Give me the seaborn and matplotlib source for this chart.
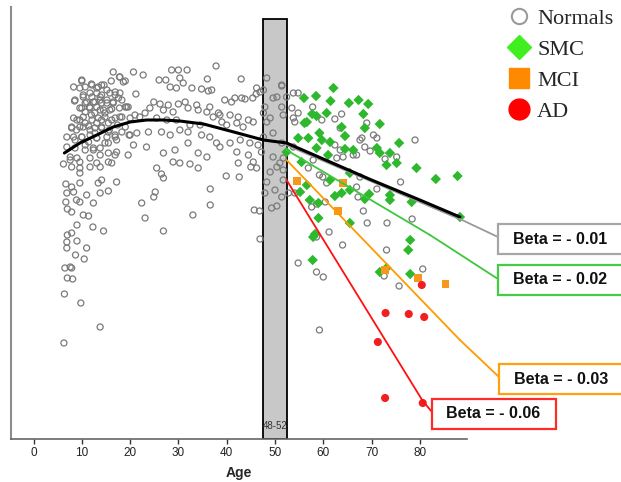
import matplotlib
matplotlib.use("Agg")
import matplotlib.pyplot as plt
import seaborn as sns
import pandas as pd
from matplotlib.lines import Line2D
from matplotlib.patches import Rectangle

# ---------------- data (age, score in arbitrary units) ----------------
normals_age = [
    16.5, 17.8, 18.6, 8.3, 10.0, 12.0, 13.4, 14.6, 16.1,
    8.5, 10.3, 11.7, 13.1, 14.1, 15.8, 16.9,
    10.7, 12.4, 13.8, 15.2, 16.5, 18.3,
    10.0, 11.6, 13.1, 14.5, 16.2, 17.8, 19.3,
    9.0, 10.3, 12.0, 13.4, 14.8, 16.2, 17.9,
    7.9, 9.6, 11.4, 12.7, 14.1, 15.7, 17.4, 19.0,
    8.3, 10.0, 11.7, 13.1, 15.2, 16.9, 19.8,
    6.2, 7.6, 9.0, 10.7, 12.4, 13.8, 15.5, 17.2,
    7.9, 9.6, 9.6, 11.7, 13.8, 16.2, 25.5, 26.5, 26.9, 32.4, 34.1, 39.9, 42.6, 45.0, 46.2,
    6.7, 7.9, 6.9, 8.3, 9.6, 13.4, 14.1, 17.2, 15.5, 13.8, 11.0,
    6.7, 8.9, 9.6, 12.4, 7.0, 7.9, 25.2, 24.9, 22.4, 36.6, 36.6,
    10.3, 11.4, 9.0, 12.3, 14.5, 23.1, 26.9, 33.0, 45.7, 46.8, 46.9,
    7.0, 7.9, 6.9, 9.0, 6.9, 11.0, 8.7, 10.5, 6.5, 7.6, 7.0, 8.1, 7.9, 6.4, 9.8, 13.8, 6.3,
    17.9, 19.0, 10.0,
    9.6, 10.7, 12.1, 13.1, 14.1, 15.2, 16.9, 17.9,
    8.6, 10.3, 11.0, 12.1, 12.7, 13.8, 14.1, 15.2, 16.5, 17.6, 19.0, 19.6,
    9.6, 10.7, 11.7, 12.7, 13.8, 14.8, 15.8, 16.9,
    8.3, 9.6, 10.7, 12.1, 13.1, 14.1, 15.5, 18.3, 20.0, 21.0,
    7.9, 8.9, 10.3, 11.7, 12.7, 14.1, 15.5, 16.9, 18.3, 20.0,
    6.9, 8.6, 10.0, 11.4, 13.1, 15.5, 17.2,
    6.9, 8.6, 10.7, 12.4, 13.8, 14.8,
    7.6, 9.6, 11.7, 13.1, 15.5, 16.9, 19.6,
    37.8, 20.7, 22.7, 28.6, 30.0, 31.8, 30.3, 31.0, 26.0, 27.4, 36.0, 43.0, 28.3, 29.6,
    32.8, 34.8, 36.2, 36.9, 46.2, 46.9, 21.2,
    24.9, 26.2, 27.9, 30.0, 31.4, 33.8, 36.5, 39.6, 41.0, 41.7, 43.1, 43.8, 45.4, 46.1,
    24.1, 26.9, 28.9, 32.0, 34.1, 35.9, 38.3, 40.7, 42.4, 44.5, 45.5,
    22.0, 23.1, 25.5, 27.6, 29.6, 32.4, 34.5, 37.2, 38.6, 39.0, 40.0, 42.1, 43.4,
    21.4, 23.8, 26.5, 28.3, 30.3, 32.0, 34.8, 36.5, 37.9, 40.7, 42.8, 44.8, 46.5,
    20.7, 23.4, 26.9, 29.3, 32.0, 34.1, 35.9, 38.6, 42.1, 44.5,
    28.9, 30.3, 42.4, 45.5,
    47.6, 48.3, 49.6, 50.4, 51.4, 52.4, 53.8, 54.8, 47.9, 47.6, 51.4, 53.5, 51.7, 49.0,
    48.3, 53.8, 47.6, 49.6, 51.4, 53.8, 47.2, 49.6, 51.7, 51.0, 49.0, 50.4, 51.7,
    48.3, 51.7, 50.0, 47.9, 51.4, 49.3, 50.4, 52.8, 54.8, 58.6, 60.0, 59.2, 61.2,
    64.0, 58.6, 57.6, 54.1,
    54.8, 57.8, 59.7, 62.4, 63.8, 69.0, 54.1, 63.5, 70.4, 71.1, 68.0, 67.6, 68.6, 69.7,
    79.0, 62.4, 63.5, 66.2, 66.9, 62.8, 64.1, 57.9, 72.8, 75.2, 56.9, 59.2, 59.9, 67.6,
    76.0, 66.9, 71.1, 60.7, 67.2, 60.4, 51.4,
    58.6, 68.3, 69.1, 73.2, 78.4, 73.1, 72.6, 75.7, 80.6,
]
normals_score = [
    367, 362, 357, 352, 358, 355, 352, 354, 358,
    338, 344, 346, 346, 344, 346, 344,
    336, 337, 339, 336, 337, 339,
    331, 332, 332, 329, 330, 331, 332,
    319, 322, 324, 321, 322, 319, 322,
    311, 312, 313, 311, 312, 309, 314, 312,
    302, 302, 304, 301, 302, 302, 304,
    275, 282, 281, 289, 291, 284, 286, 287,
    272, 271, 266, 272, 272, 276, 271, 265, 261, 275, 271, 263, 262, 272, 271,
    255, 252, 246, 247, 256, 256, 259, 257, 248, 246, 244,
    237, 239, 237, 236, 230, 227, 247, 242, 236, 250, 234,
    224, 223, 214, 212, 208, 221, 208, 224, 229, 228, 200,
    204, 206, 197, 198, 191, 191, 184, 180, 171, 172, 161, 160, 171, 145, 136, 112, 96,
    362, 358, 359,
    351, 352, 354, 351, 354, 349, 347, 346,
    339, 342, 337, 342, 337, 342, 336, 339, 336, 341, 332, 332,
    331, 327, 331, 326, 329, 326, 329, 321,
    321, 319, 316, 319, 316, 319, 316, 322, 321, 324,
    312, 309, 312, 309, 306, 311, 307, 304, 307, 304,
    302, 299, 302, 297, 301, 296, 299,
    292, 291, 294, 289, 291, 296,
    279, 277, 281, 276, 277, 284, 284,
    373, 367, 364, 369, 369, 369, 361, 356, 359, 359, 360, 360, 352, 351,
    351, 350, 348, 349, 351, 347, 345,
    337, 335, 334, 335, 337, 334, 332, 339, 337, 341, 341, 340, 341, 345,
    331, 329, 327, 331, 329, 327, 326, 324, 322, 319, 317,
    322, 326, 321, 319, 319, 314, 314, 322, 324, 317, 314, 316, 312,
    306, 307, 307, 304, 309, 307, 304, 302, 296, 296, 299, 296, 294,
    294, 292, 286, 289, 296, 286, 282, 292, 287, 284,
    277, 276, 276, 277,
    349, 361, 341, 342, 353, 342, 346, 346, 332, 326, 332, 331, 324, 321,
    317, 321, 302, 306, 296, 292, 287, 282, 281, 276, 267, 272, 269,
    257, 259, 249, 246, 242, 231, 233, 246, 176, 167, 162, 109, 207,
    194, 202, 232, 246,
    326, 332, 319, 320, 325, 316, 317, 311, 304, 301, 301, 299, 292, 288,
    299, 294, 289, 284, 284, 281, 282, 279, 280, 282, 271, 264, 262, 262,
    257, 252, 250, 256, 242, 237, 354,
    235, 228, 216, 216, 220, 189, 163, 153, 170,
]

smc_age = [
    62.1, 56.0, 58.5, 61.5, 65.3, 67.3, 69.3, 68.3, 57.7, 58.6, 60.7, 56.1, 56.6,
    63.8, 68.6, 71.7, 59.2, 64.5, 54.8, 56.9, 59.7, 61.4, 58.6, 64.5, 66.2, 75.7,
    71.1, 71.7, 73.8, 61.0, 55.5, 52.4, 73.1, 75.2, 79.3, 83.3, 87.8, 61.4, 56.6,
    55.2, 62.4, 63.8, 65.5, 69.5, 68.6, 73.8, 73.8, 57.2, 59.0, 65.5, 59.0, 65.5,
    57.9, 58.3, 57.8, 78.0, 77.6, 71.7, 73.1, 78.0, 88.3, 78.3,
]
smc_score = [
    351, 341, 343, 338, 336, 339, 335, 325, 325, 323, 326, 316, 317,
    312, 311, 315, 306, 303, 301, 301, 299, 297, 291, 290, 289, 296,
    291, 286, 286, 284, 277, 287, 274, 276, 271, 260, 263, 259, 254,
    247, 243, 246, 249, 245, 240, 244, 239, 239, 236, 266, 221, 216,
    202, 205, 179, 199, 189, 167, 171, 165, 222, 237,
]

mci_age = [54.5, 64.1, 63.1, 72.8, 79.7, 85.3]
mci_score = [258, 256, 228, 169, 161, 155]

ad_age = [80.4, 72.9, 77.7, 80.9, 71.3, 72.8, 80.6]
ad_score = [154, 126, 125, 122, 97, 41, 36]

# fitted curve for normals (lifespan trend)
curve_age = [6.4, 9.6, 13.1, 16.5, 20.0, 23.4, 26.9, 30.3, 35.2, 40.7, 47.6, 52.4, 60.0, 70.0, 80.0, 88.3]
curve_score = [286, 296, 304, 312, 317, 319, 319, 318, 315, 308, 299, 296, 280, 259, 239, 222]

# post-50 regression lines per group
groups = ["Normals", "SMC", "MCI", "AD"]
beta_labels = ["Beta = - 0.01", "Beta = - 0.02", "Beta = - 0.03", "Beta = - 0.06"]
beta_start_age = [52.4, 52.4, 52.4, 52.4]
beta_end_age = [88.3, 82.1, 88.3, 80.6]
beta_start_score = [294, 289, 279, 259]
beta_end_score = [220, 204, 99, 38]

window_center, window_width, window_label = 50, 5, "48-52"

# ---------------- styling ----------------
sns.set_theme(style="white")
plt.rcParams['font.family'] = ['Liberation Sans', 'DejaVu Sans']

W, H = 621, 482
def fx(px):
    return px / W
def fy(py):
    return 1 - py / H

fig = plt.figure(figsize=(W / 100, H / 100), dpi=100)
ax = fig.add_axes([fx(11), fy(439), (466.7 - 11) / W, (439 - 7) / H])
ax.set_xlim(-4.66, 89.7)
ax.set_ylim(0, 432)

# age window bar
ax.bar([window_center], [420], width=window_width, bottom=0, color='#c8c8c8',
       edgecolor='black', linewidth=1.3, zorder=1)
ax.text(window_center, 13, window_label, ha='center', va='center', fontsize=7,
        color='#333333', zorder=2)

df_n = pd.DataFrame({"age": normals_age, "score": normals_score})
df_s = pd.DataFrame({"age": smc_age, "score": smc_score})
df_m = pd.DataFrame({"age": mci_age, "score": mci_score})
df_a = pd.DataFrame({"age": ad_age, "score": ad_score})

sns.scatterplot(data=df_n, x="age", y="score", ax=ax, marker='o', s=19,
                facecolor='none', edgecolor='#7a7a7a', linewidth=0.9, zorder=3)
sns.scatterplot(data=df_s, x="age", y="score", ax=ax, marker='D', s=28,
                color='#2db82d', edgecolor='none', linewidth=0, zorder=4)
sns.scatterplot(data=df_m, x="age", y="score", ax=ax, marker='s', s=32,
                color='#f7981d', edgecolor='none', linewidth=0, zorder=5)
sns.scatterplot(data=df_a, x="age", y="score", ax=ax, marker='o', s=34,
                color='#f02020', edgecolor='none', linewidth=0, zorder=5)

line_colors = ['#9a9a9a', '#3cc83c', '#ff9a00', '#ff1010']
box_colors = ['#a6a6a6', '#44cc44', '#ffa010', '#ff2a2a']
for i in range(4):
    sns.lineplot(x=[beta_start_age[i], beta_end_age[i]],
                 y=[beta_start_score[i], beta_end_score[i]], ax=ax,
                 color=line_colors[i], linewidth=1.6 if i == 0 else 1.3, zorder=6)

sns.lineplot(x=curve_age, y=curve_score, ax=ax, color='black', linewidth=2.2,
             zorder=7, sort=False)

ax.set_xticks(range(0, 90, 10))
ax.set_yticks([])
ax.tick_params(axis='x', bottom=True, length=3.6, width=1.0, color='#333333',
               labelsize=8.5, pad=2, labelcolor='#222222')
for s in ['top', 'right']:
    ax.spines[s].set_visible(False)
ax.spines['left'].set_color('#8c8c8c')
ax.spines['left'].set_linewidth(1.5)
ax.spines['bottom'].set_color('#666666')
ax.spines['bottom'].set_linewidth(1.2)
ax.set_xlabel("Age", fontsize=10, fontweight='bold', labelpad=5)
ax.set_ylabel("")

# beta annotation boxes (layout in figure pixels)
box_rects = [(498, 224, 135, 30), (498, 265, 135, 30), (499, 364, 135, 30), (432, 399, 124, 30)]
conn_targets = [(498, 237), (498, 279), (499, 377), (432, 412)]
inv = fig.transFigure.inverted()
for i in range(4):
    x0, y0, w, h = box_rects[i]
    fig.patches.append(Rectangle((fx(x0), fy(y0 + h)), w / W, h / H,
                                 transform=fig.transFigure, facecolor='white',
                                 edgecolor=box_colors[i], linewidth=1.6, zorder=10))
    tx = 560.5 if i < 3 else 493
    if i == 2:
        tx = 561.5
    fig.text(fx(tx), fy(y0 + h / 2), beta_labels[i], ha='center', va='center',
             fontsize=11.5, fontweight='bold', color='#111111', zorder=11)
    ex, ey = inv.transform(ax.transData.transform((beta_end_age[i], beta_end_score[i])))
    cx, cy = conn_targets[i]
    fig.add_artist(Line2D([ex, fx(cx)], [ey, fy(cy)], transform=fig.transFigure,
                          color=line_colors[i], linewidth=1.3, zorder=9))

# legend
handles = [
    Line2D([], [], marker='o', ls='none', markerfacecolor='none', markeredgecolor='#9a9a9a',
           markeredgewidth=1.5, markersize=11),
    Line2D([], [], marker='D', ls='none', color='#3fef1f', markersize=12),
    Line2D([], [], marker='s', ls='none', color='#ff8a00', markersize=14),
    Line2D([], [], marker='o', ls='none', color='#ff0000', markersize=15),
]
fig.legend(handles, groups, loc='upper left', bbox_to_anchor=(fx(506), fy(8)),
           frameon=False, prop={'family': ['Liberation Serif'], 'size': 16},
           handlelength=1.2, handletextpad=0.2, labelspacing=0.47,
           borderpad=0, borderaxespad=0)

fig.savefig("out.png", dpi=100)
